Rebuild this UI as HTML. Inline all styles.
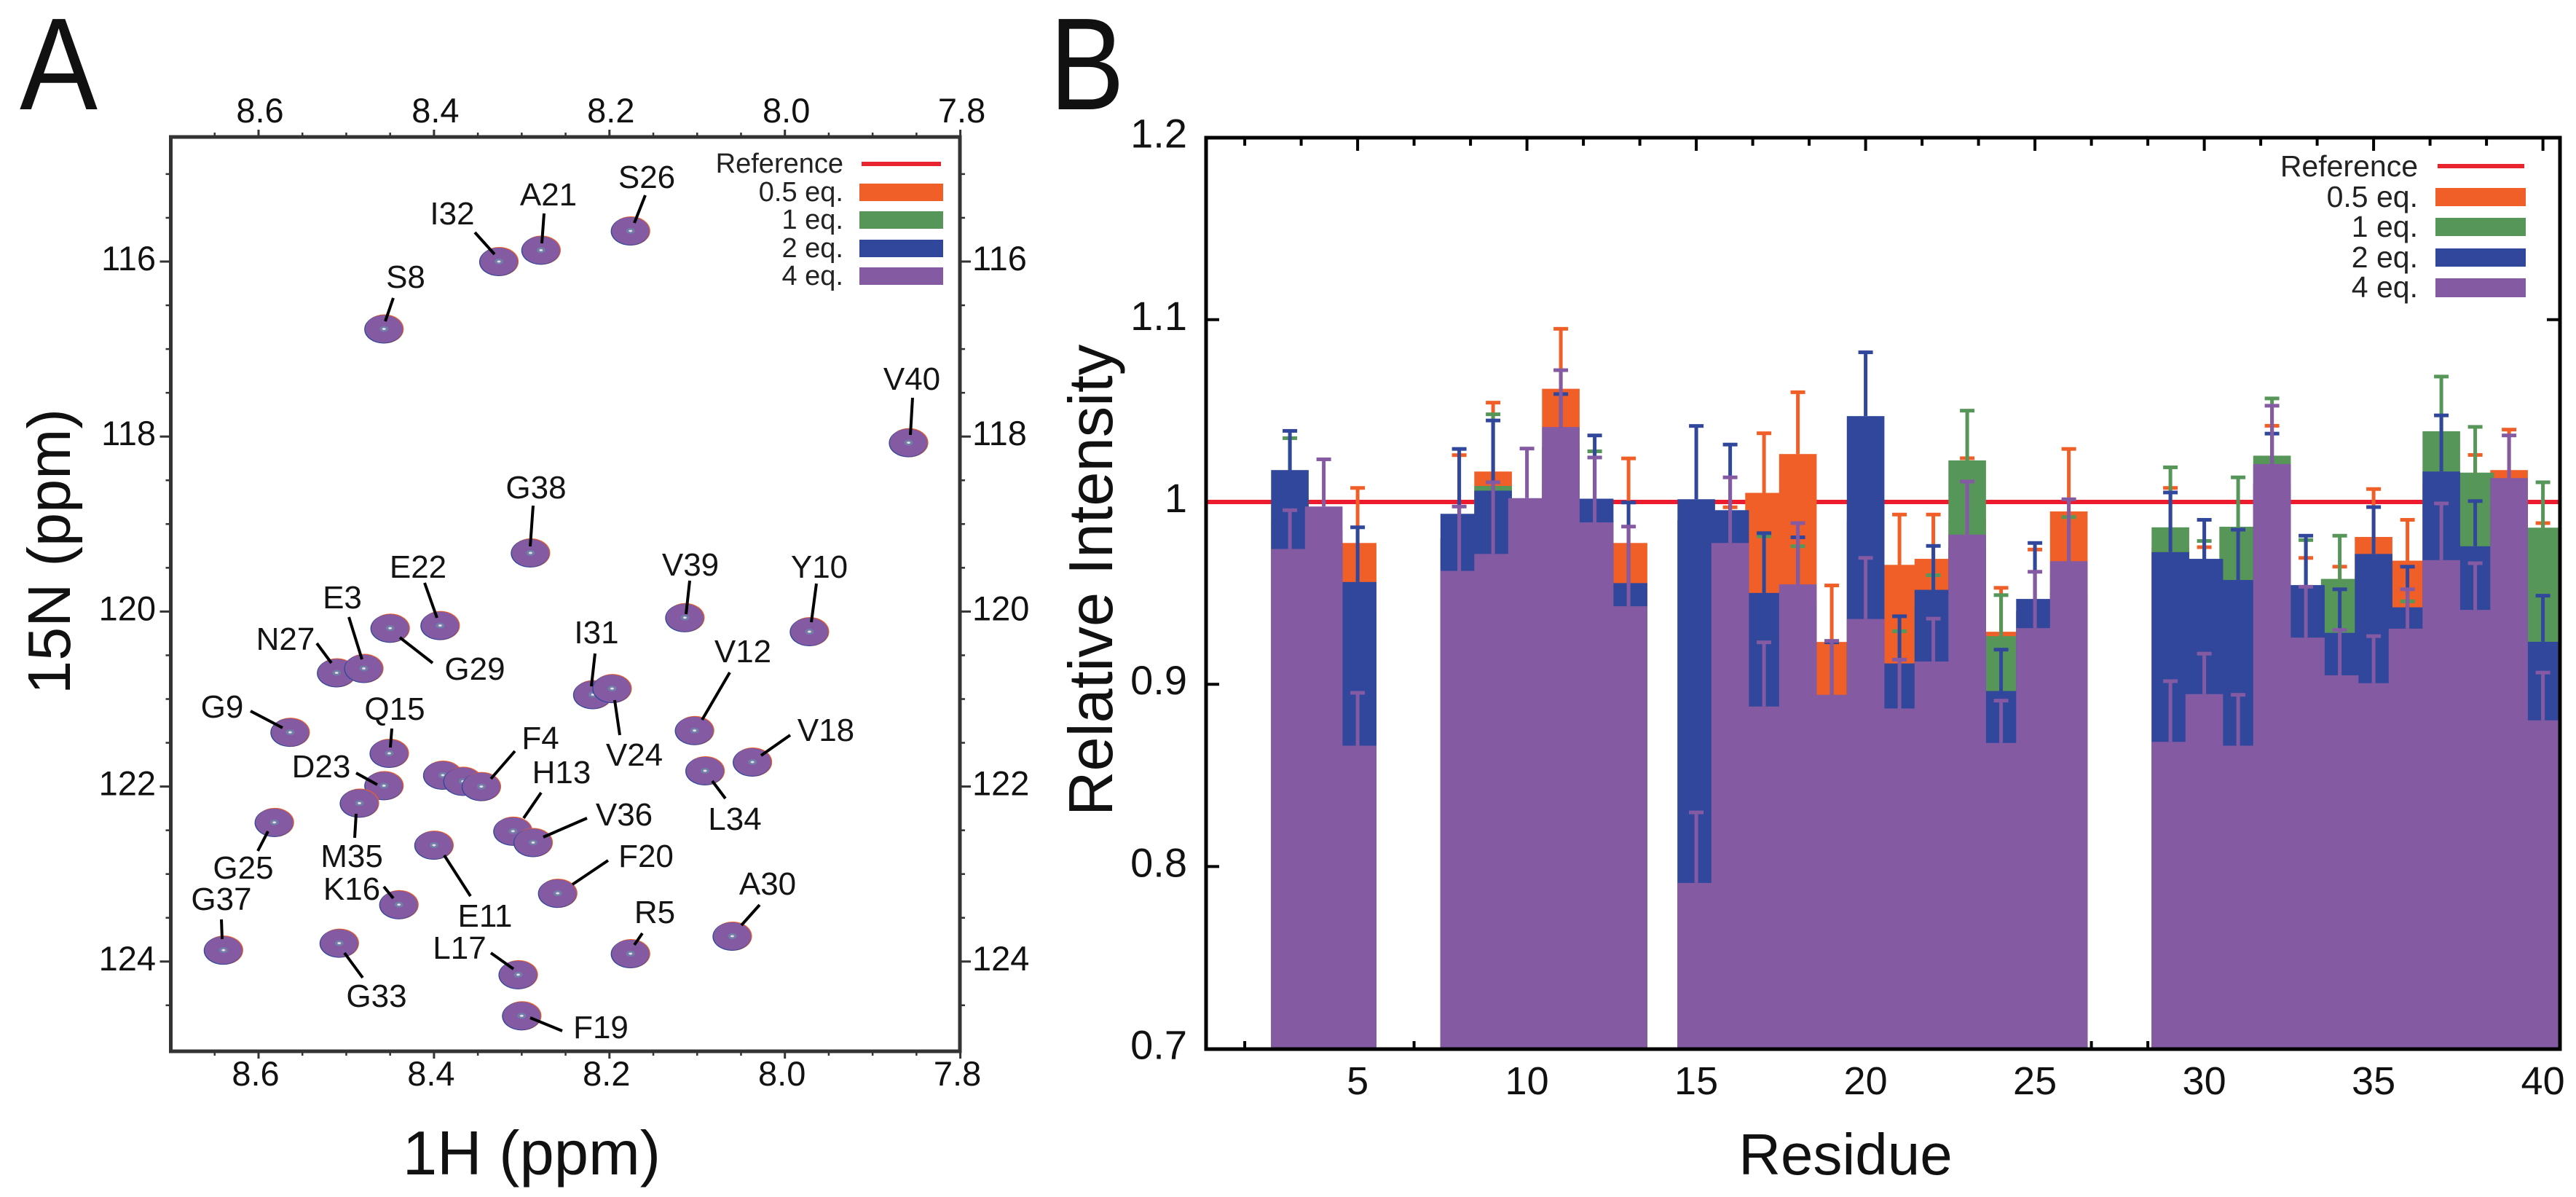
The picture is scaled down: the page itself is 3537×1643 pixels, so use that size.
<!DOCTYPE html>
<html lang="en">
<head>
<meta charset="utf-8">
<title>NMR titration spectra and relative intensity</title>
<style>
html,body{margin:0;padding:0;background:#fff;}
svg{display:block;}
text{font-family:"Liberation Sans",Arial,sans-serif;fill:#111;}
.pl{font-size:44px;text-anchor:middle;fill:#141414;}
.ld{stroke:#000;stroke-width:4;}
.lgA{font-size:38px;text-anchor:end;fill:#222;}
.lgB{font-size:41px;text-anchor:end;fill:#222;}
</style>
</head>
<body>
<svg id="fig" xmlns="http://www.w3.org/2000/svg" width="3537" height="1643" viewBox="0 0 3537 1643">
<rect x="0" y="0" width="3537" height="1643" fill="#fff"/>
<text x="27" y="150" font-size="180" textLength="107" lengthAdjust="spacingAndGlyphs" fill="#000">A</text>
<text x="1441" y="150" font-size="180" textLength="103" lengthAdjust="spacingAndGlyphs" fill="#000">B</text>

<g id="panelA"></g>
<g id="panelB"></g>

<text x="730" y="1612" font-size="85" text-anchor="middle" fill="#000">1H (ppm)</text>
<text transform="translate(96,953) rotate(-90)" font-size="83" fill="#000">15N (ppm)</text>
<text x="2534" y="1612" font-size="80" text-anchor="middle" fill="#000">Residue</text>
<text transform="translate(1527,1120) rotate(-90)" font-size="85" fill="#000">Relative Intensity</text>

<g>
<line class="ld" x1="540" y1="409" x2="529" y2="441"/><text class="pl" x="557" y="395">S8</text>
<line class="ld" x1="652" y1="319" x2="679" y2="349"/><text class="pl" x="621" y="308">I32</text>
<line class="ld" x1="747" y1="293" x2="744" y2="334"/><text class="pl" x="753" y="282">A21</text>
<line class="ld" x1="886" y1="268" x2="871" y2="306"/><text class="pl" x="888" y="258">S26</text>
<line class="ld" x1="1253" y1="546" x2="1250" y2="597"/><text class="pl" x="1252" y="535">V40</text>
<line class="ld" x1="732" y1="694" x2="728" y2="750"/><text class="pl" x="736" y="684">G38</text>
<line class="ld" x1="583" y1="800" x2="600" y2="848"/><text class="pl" x="574" y="793">E22</text>
<line class="ld" x1="947" y1="797" x2="942" y2="843"/><text class="pl" x="948" y="790">V39</text>
<line class="ld" x1="1121" y1="801" x2="1114" y2="854"/><text class="pl" x="1125" y="793">Y10</text>
<line class="ld" x1="479" y1="847" x2="497" y2="905"/><text class="pl" x="470" y="835">E3</text>
<line class="ld" x1="435" y1="883" x2="455" y2="910"/><text class="pl" x="392" y="892">N27</text>
<line class="ld" x1="549" y1="875" x2="594" y2="910"/><text class="pl" x="652" y="933">G29</text>
<line class="ld" x1="817" y1="897" x2="812" y2="942"/><text class="pl" x="819" y="883">I31</text>
<line class="ld" x1="1002" y1="923" x2="964" y2="988"/><text class="pl" x="1020" y="909">V12</text>
<line class="ld" x1="344" y1="976" x2="388" y2="999"/><text class="pl" x="305" y="985">G9</text>
<line class="ld" x1="538" y1="1000" x2="536" y2="1026"/><text class="pl" x="542" y="988">Q15</text>
<line class="ld" x1="1085" y1="1009" x2="1045" y2="1037"/><text class="pl" x="1134" y="1017">V18</text>
<line class="ld" x1="844" y1="961" x2="851" y2="1009"/><text class="pl" x="871" y="1051">V24</text>
<line class="ld" x1="707" y1="1031" x2="674" y2="1069"/><text class="pl" x="742" y="1028">F4</text>
<line class="ld" x1="489" y1="1061" x2="518" y2="1077"/><text class="pl" x="441" y="1067">D23</text>
<line class="ld" x1="743" y1="1088" x2="719" y2="1123"/><text class="pl" x="771" y="1075">H13</text>
<line class="ld" x1="978" y1="1072" x2="996" y2="1096"/><text class="pl" x="1009" y="1139">L34</text>
<line class="ld" x1="806" y1="1123" x2="746" y2="1149"/><text class="pl" x="857" y="1133">V36</text>
<line class="ld" x1="489" y1="1117" x2="487" y2="1150"/><text class="pl" x="483" y="1190">M35</text>
<line class="ld" x1="368" y1="1141" x2="354" y2="1168"/><text class="pl" x="334" y="1206">G25</text>
<line class="ld" x1="835" y1="1181" x2="786" y2="1214"/><text class="pl" x="887" y="1190">F20</text>
<line class="ld" x1="304" y1="1262" x2="305" y2="1289"/><text class="pl" x="304" y="1249">G37</text>
<line class="ld" x1="527" y1="1217" x2="540" y2="1233"/><text class="pl" x="483" y="1235">K16</text>
<line class="ld" x1="1043" y1="1242" x2="1018" y2="1270"/><text class="pl" x="1054" y="1228">A30</text>
<line class="ld" x1="882" y1="1281" x2="871" y2="1297"/><text class="pl" x="899" y="1267">R5</text>
<line class="ld" x1="610" y1="1174" x2="646" y2="1230"/><text class="pl" x="666" y="1272">E11</text>
<line class="ld" x1="674" y1="1308" x2="705" y2="1330"/><text class="pl" x="631" y="1316">L17</text>
<line class="ld" x1="473" y1="1308" x2="498" y2="1342"/><text class="pl" x="517" y="1382">G33</text>
<line class="ld" x1="728" y1="1397" x2="772" y2="1415"/><text class="pl" x="825" y="1425">F19</text>
</g>

<g>
<text class="lgA" x="1158" y="237">Reference</text>
<rect x="1183" y="222" width="109" height="6" fill="#E8242F"/>
<text class="lgA" x="1158" y="276">0.5 eq.</text>
<rect x="1180" y="252" width="115" height="24" fill="#F05F28"/>
<text class="lgA" x="1158" y="314">1 eq.</text>
<rect x="1180" y="290" width="115" height="24" fill="#569659"/>
<text class="lgA" x="1158" y="353">2 eq.</text>
<rect x="1180" y="329" width="115" height="24" fill="#31479C"/>
<text class="lgA" x="1158" y="391">4 eq.</text>
<rect x="1180" y="367" width="115" height="24" fill="#845AA3"/>
</g>

<g>
<text class="lgB" x="3320" y="242">Reference</text>
<rect x="3347" y="225" width="119" height="6" fill="#E8242F"/>
<text class="lgB" x="3320" y="284">0.5 eq.</text>
<rect x="3344" y="258" width="124" height="25" fill="#F05F28"/>
<text class="lgB" x="3320" y="325">1 eq.</text>
<rect x="3344" y="299" width="124" height="25" fill="#569659"/>
<text class="lgB" x="3320" y="367">2 eq.</text>
<rect x="3344" y="341" width="124" height="25" fill="#31479C"/>
<text class="lgB" x="3320" y="408">4 eq.</text>
<rect x="3344" y="382" width="124" height="26" fill="#845AA3"/>
</g>
</svg>

<script>
// Panel A data
const peakNames = ['S8','I32','A21','S26','V40','G38','E22','G29','V39','Y10','N27','E3','I31','V24','G9','V12','Q15','V18','L34','peak-a','peak-b','F4','D23','M35','G25','H13','V36','E11','F20','K16','A30','G33','G37','R5','L17','F19'];
const peakH = [8.457,8.326,8.278,8.176,7.859,8.290,8.393,8.450,8.114,7.972,8.511,8.480,8.219,8.197,8.564,8.103,8.451,8.037,8.091,8.390,8.367,8.346,8.457,8.485,8.582,8.310,8.287,8.400,8.259,8.440,8.060,8.508,8.640,8.176,8.304,8.300];
const peakN = [116.77,116.00,115.87,115.65,118.07,119.33,120.16,120.19,120.07,120.23,120.70,120.65,120.95,120.88,121.38,121.36,121.62,121.72,121.82,121.87,121.94,122.00,121.99,122.19,122.41,122.51,122.64,122.67,123.22,123.35,123.71,123.79,123.87,123.91,124.15,124.62];
const aXMajor = [8.6,8.4,8.2,8.0,7.8];
const aXLabels = ['8.6','8.4','8.2','8.0','7.8'];
const aXMinor = [8.65,8.55,8.5,8.45,8.35,8.3,8.25,8.15,8.1,8.05,7.95,7.9,7.85];
const aYMajor = [116,118,120,122,124];
const aYLabels = ['116','118','120','122','124'];
const aYMinor = [115,115.5,116.5,117,117.5,118.5,119,119.5,120.5,121,121.5,122.5,123,123.5,124.5];

// Panel B data
const residues = [3,4,5,8,9,10,11,12,13,15,16,17,18,19,20,21,22,23,24,25,26,29,30,31,32,33,34,35,36,37,38,39,40];
const orangeVal = [.99,.985,.9775,.98,1.0167,.985,1.0621,.99,.9775,.99,.97,1.005,1.0263,.9232,.99,.9655,.9688,.99,.9288,.94,.9948,.975,.95,.95,1.01,.945,.94,.9808,.9678,1.01,.995,1.0175,.96];
const orangeCap = [1.01,.995,1.0077,1.0257,1.0545,1.0,1.095,1.0,1.0239,1.0,.9971,1.0377,1.0602,.9542,1.02,.9931,.9931,1.024,.9529,.9739,1.0291,1.0077,.9752,.98,1.0418,.9693,.9645,1.0071,.9902,1.03,1.0258,1.0397,.9884];
const greenVal = [1.0,.98,.94,.98,1.0088,.98,1.01,.99,.94,.99,.97,.945,.945,.89,1.0,.91,.945,1.0228,.9264,.94,.96,.9861,.96,.9864,1.0254,.95,.9578,.96,.93,1.0388,1.0161,1.0,.9859];
const greenCap = [1.035,.995,.95,.99,1.0481,.995,1.03,1.0278,.95,1.0,.99,.9812,.9757,.893,1.02,.9291,.9598,1.0501,.9489,.945,.9917,1.019,.9786,1.0135,1.0568,.9791,.9815,.97,.9455,1.0688,1.0412,1.01,1.0108];
const blueVal = [1.0175,.98,.9561,.9935,1.0062,.985,1.03,1.0018,.9555,1.0015,.9955,.9501,.945,.89,1.0471,.9114,.9518,.975,.8963,.9468,.95,.9725,.9688,.9572,1.01,.9544,.9282,.9715,.9422,1.0167,.9757,1.0,.9233];
const blueCap = [1.039,.995,.9861,1.0291,1.0447,1.0,1.0592,1.0365,.9997,1.0417,1.0315,.9829,.9806,.923,1.0821,.9373,.9759,.98,.919,.9775,.96,1.0052,.9902,.9848,1.0375,.9815,.9521,.9972,.9645,1.0475,1.0005,1.01,.9486];
const purpleVal = [.9742,.9975,.8663,.9622,.9715,1.0021,1.0411,.9888,.9428,.791,.9775,.8878,.9548,.8942,.9358,.8867,.9125,.9821,.8678,.9308,.9675,.8684,.8946,.8663,1.0208,.9256,.9049,.9006,.9305,.9681,.9408,1.0131,.8802];
const purpleCap = [.9955,1.0234,.8953,.9975,1.0108,1.0293,1.0723,1.0244,.9865,.8297,1.0135,.923,.9884,.9238,.9693,.9135,.936,1.0112,.891,.9617,1.0015,.9017,.9168,.8942,1.0528,.9535,.9298,.9264,.9521,.9992,.9664,1.0365,.9064];
const referenceLevel = 1.0;
const bXMajor = [5,10,15,20,25,30,35,40];
const bXLabels = ['5','10','15','20','25','30','35','40'];
const bYMajor = [1.2,1.1,1.0,0.9,0.8,0.7];
const bYLabels = ['1.2','1.1','1','0.9','0.8','0.7'];
const bXMinorStep = 5/3;

const NS = 'http://www.w3.org/2000/svg';
const COL = {red:'#EC1C2E',orange:'#F05F28',green:'#569659',blue:'#31479C',purple:'#845AA3'};
function node(parent,tag,attrs,txt){
  const e=document.createElementNS(NS,tag);
  for(const k in attrs) e.setAttribute(k,attrs[k]);
  if(txt!==undefined) e.textContent=txt;
  parent.appendChild(e);
  return e;
}

// ---------- Panel A ----------
const pA=document.getElementById('panelA');
const A={l:234.5,r:1318,t:188,b:1443};
const xA=h=>355+(8.6-h)*1204.5;
const yA=n=>359+(n-116)*120.1;
const AXC='#333';
aXMinor.forEach(v=>{
  [[A.t,A.t-6],[A.b,A.b+6]].forEach(p=>{
    const el=node(pA,'line',{x1:xA(v),x2:xA(v),y1:p[0],y2:p[1],stroke:AXC,'stroke-width':2.5});
    
    
  });
});
aXMajor.forEach((v,i)=>{
  [[A.t,A.t-10],[A.b,A.b+10]].forEach(p=>{
    const el=node(pA,'line',{x1:xA(v),x2:xA(v),y1:p[0],y2:p[1],stroke:AXC,'stroke-width':3});
    
    
  });
  const t1=node(pA,'text',{x:xA(v)+2,y:168,'font-size':47,'text-anchor':'middle',fill:'#333'},aXLabels[i]);
  
  
  const t2=node(pA,'text',{x:xA(v)-4,y:1490,'font-size':47,'text-anchor':'middle',fill:'#333'},aXLabels[i]);
  
  
});
aYMinor.forEach(v=>{
  [[A.l,A.l-7],[A.r,A.r+7]].forEach(p=>{
    const el=node(pA,'line',{x1:p[0],x2:p[1],y1:yA(v),y2:yA(v),stroke:AXC,'stroke-width':2.5});
    
    
  });
});
aYMajor.forEach((v,i)=>{
  [[A.l,A.l-15],[A.r,A.r+15]].forEach(p=>{
    const el=node(pA,'line',{x1:p[0],x2:p[1],y1:yA(v),y2:yA(v),stroke:AXC,'stroke-width':3});
    
    
  });
  const t1=node(pA,'text',{x:214,y:yA(v)+12,'font-size':47,'text-anchor':'end',fill:'#333'},aYLabels[i]);
  
  
  const t2=node(pA,'text',{x:1335,y:yA(v)+12,'font-size':47,fill:'#333'},aYLabels[i]);
  
  
});
peakNames.forEach((name,i)=>{
  const cx=xA(peakH[i]),cy=yA(peakN[i]);
  const g=node(pA,'g',{});
  
  
  node(g,'ellipse',{cx:cx+0.6,cy:cy,rx:26.5,ry:20,fill:COL.orange});
  node(g,'ellipse',{cx:cx-0.6,cy:cy+0.5,rx:26.5,ry:19.5,fill:COL.blue});
  node(g,'ellipse',{cx:cx,cy:cy,rx:25.8,ry:19,fill:COL.purple});
  node(g,'ellipse',{cx:cx,cy:cy,rx:6,ry:4,fill:'#6F7FA8'});
  node(g,'ellipse',{cx:cx,cy:cy,rx:2.5,ry:1.5,fill:'#E9DCE2'});
});
const fA=node(pA,'rect',{x:A.l,y:A.t,width:A.r-A.l,height:A.b-A.t,fill:'none',stroke:AXC,'stroke-width':5});



// ---------- Panel B ----------
const pB=document.getElementById('panelB');
const B={l:1656,r:3515,t:189,b:1440};
const xB=r=>1631.6+46.5*r;
const yB=v=>689+(1-v)*2502;
const HALF=0.555;
const topMajorLen=18, topMinorLen=11;
// minor ticks
for(let k=0;k<8;k++){
  [1,2].forEach(m=>{
    const r=bXMajor[k]-m*bXMinorStep;
    [[B.t,B.t+topMinorLen],[B.b,B.b-topMinorLen]].forEach(p=>{
      const el=node(pB,'line',{x1:xB(r),x2:xB(r),y1:p[0],y2:p[1],stroke:'#000','stroke-width':4});
      
      
    });
  });
}
bXMajor.forEach((v,i)=>{
  [[B.t,B.t+topMajorLen],[B.b,B.b-topMajorLen]].forEach(p=>{
    const el=node(pB,'line',{x1:xB(v),x2:xB(v),y1:p[0],y2:p[1],stroke:'#000','stroke-width':4});
    
    
  });
  const t=node(pB,'text',{x:xB(v),y:1502,'font-size':54,'text-anchor':'middle',fill:'#222'},bXLabels[i]);
  
  
});
bYMajor.forEach((v,i)=>{
  [[B.l,B.l+18],[B.r,B.r-18]].forEach(p=>{
    const el=node(pB,'line',{x1:p[0],x2:p[1],y1:yB(v),y2:yB(v),stroke:'#000','stroke-width':4});
    
    
  });
  const t=node(pB,'text',{x:1630,y:yB(v)+14,'font-size':56,'text-anchor':'end',fill:'#222'},bYLabels[i]);
  
  
});
const refLine=node(pB,'line',{x1:B.l,x2:B.r,y1:yB(referenceLevel),y2:yB(referenceLevel),stroke:COL.red,'stroke-width':6});



function drawSeries(key,vals,caps,color){
  residues.forEach((r,i)=>{
    const x0=xB(r-HALF),x1=Math.min(xB(r+HALF),B.r),y=yB(vals[i]),yc=yB(caps[i]);
    const bar=node(pB,'rect',{x:x0,y:y,width:x1-x0,height:yB(0.7)-y,fill:color});
    
    
    const cx=xB(r);
    const err=node(pB,'line',{x1:cx,x2:cx,y1:y,y2:yc,stroke:color,'stroke-width':5});
    
    
    const cap=node(pB,'rect',{x:cx-10,y:yc-2.5,width:20,height:5,fill:color});
    
    
  });
}
drawSeries('0-5-eq',orangeVal,orangeCap,COL.orange);
drawSeries('1-eq',greenVal,greenCap,COL.green);
drawSeries('2-eq',blueVal,blueCap,COL.blue);
drawSeries('4-eq',purpleVal,purpleCap,COL.purple);

const fB=node(pB,'rect',{x:B.l,y:B.t,width:B.r-B.l,height:B.b-B.t,fill:'none',stroke:'#000','stroke-width':5});


</script>
</body>
</html>
